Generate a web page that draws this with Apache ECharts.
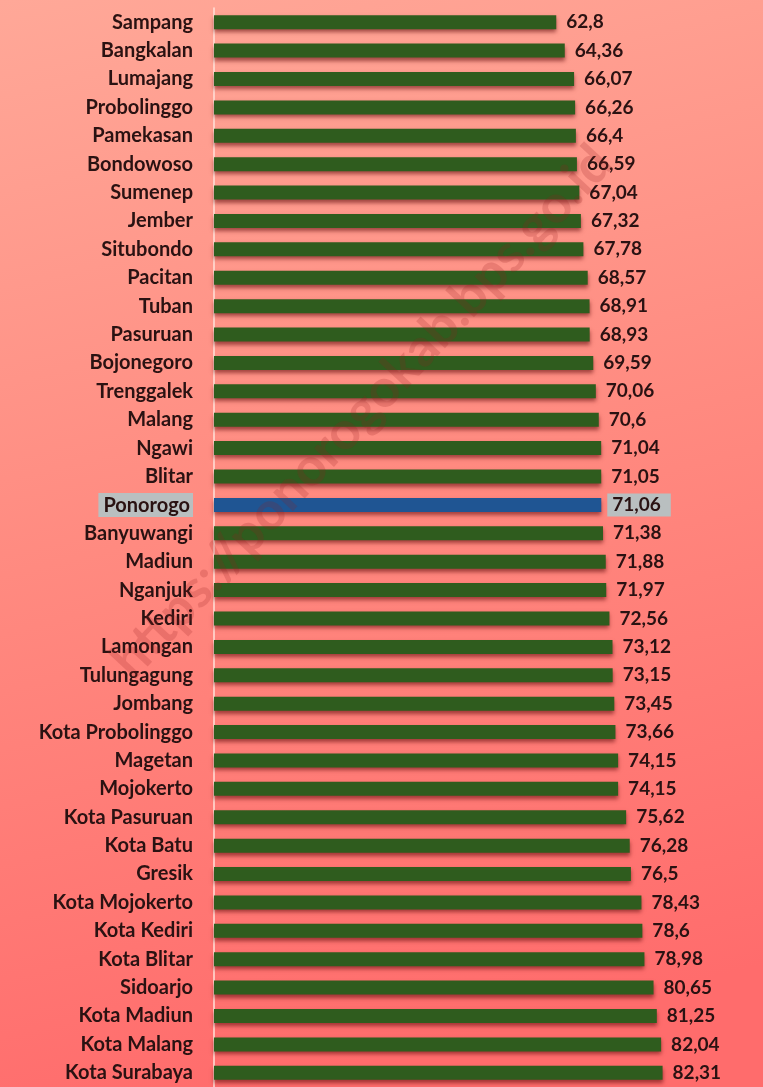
<!DOCTYPE html>
<html>
<head>
<meta charset="utf-8">
<script src="https://cdn.jsdelivr.net/npm/echarts@6/dist/echarts.min.js"></script>
<style>
  html, body { margin: 0; padding: 0; }
  #chart { width: 763px; height: 1087px; }
</style>
</head>
<body>
<div id="chart"></div>
<script>
// kabupaten / kota, diurutkan dari nilai terkecil
const regions = [
  'Sampang', 'Bangkalan', 'Lumajang', 'Probolinggo', 'Pamekasan', 'Bondowoso',
  'Sumenep', 'Jember', 'Situbondo', 'Pacitan', 'Tuban', 'Pasuruan',
  'Bojonegoro', 'Trenggalek', 'Malang', 'Ngawi', 'Blitar', 'Ponorogo',
  'Banyuwangi', 'Madiun', 'Nganjuk', 'Kediri', 'Lamongan', 'Tulungagung',
  'Jombang', 'Kota Probolinggo', 'Magetan', 'Mojokerto', 'Kota Pasuruan',
  'Kota Batu', 'Gresik', 'Kota Mojokerto', 'Kota Kediri', 'Kota Blitar',
  'Sidoarjo', 'Kota Madiun', 'Kota Malang', 'Kota Surabaya'
];
const values = [
  62.8, 64.36, 66.07, 66.26, 66.4, 66.59,
  67.04, 67.32, 67.78, 68.57, 68.91, 68.93,
  69.59, 70.06, 70.6, 71.04, 71.05, 71.06,
  71.38, 71.88, 71.97, 72.56, 73.12, 73.15,
  73.45, 73.66, 74.15, 74.15, 75.62,
  76.28, 76.5, 78.43, 78.6, 78.98,
  80.65, 81.25, 82.04, 82.31
];
const highlight = 'Ponorogo';

const txtColor = '#2a1212';
const fontFam = 'Lato, "Open Sans", sans-serif';

let myChart = echarts.init(document.getElementById('chart'));

let option = {
  backgroundColor: new echarts.graphic.LinearGradient(0, 0, 0.35, 1, [
    { offset: 0, color: '#ffa898' },
    { offset: 0.5, color: '#ff8a80' },
    { offset: 1, color: '#ff6c6c' }
  ]),
  animation: false,
  grid: {
    left: 214,
    right: 4,
    top: 8,
    bottom: 0
  },
  xAxis: {
    type: 'value',
    min: 0,
    max: 100,
    show: false
  },
  yAxis: {
    type: 'category',
    inverse: true,
    data: regions,
    axisTick: { show: false },
    axisLine: { show: true, lineStyle: { color: '#ffe2da', width: 1.5 } },
    axisLabel: {
      margin: 21,
      color: txtColor,
      fontFamily: fontFam,
      fontWeight: 'bold',
      fontSize: 20,
      formatter: function (v) {
        return v === highlight ? '{hl|' + v + '}' : v;
      },
      rich: {
        hl: {
          backgroundColor: '#b9bfc0',
          padding: [3, 3, 1, 5],
          color: txtColor,
          fontFamily: fontFam,
          fontWeight: 'bold',
          fontSize: 20
        }
      }
    }
  },
  series: [
    {
      type: 'bar',
      barWidth: 14,
      data: values.map(function (v, i) {
        let isHl = regions[i] === highlight;
        return {
          value: v,
          itemStyle: { color: isHl ? '#1f5593' : '#2f5c1e' },
          label: isHl ? {
            backgroundColor: '#b9bfc0',
            distance: 6,
            padding: [3, 10, 1, 5]
          } : {}
        };
      }),
      itemStyle: {
        shadowColor: 'rgba(100,15,15,0.6)',
        shadowBlur: 4,
        shadowOffsetY: 3
      },
      label: {
        show: true,
        position: 'right',
        distance: 10,
        color: txtColor,
        fontFamily: fontFam,
        fontWeight: 'bold',
        fontSize: 19,
        formatter: function (p) {
          return String(p.value).replace('.', ',');
        }
      }
    }
  ],
  graphic: [
    {
      type: 'text',
      x: 362,
      y: 412,
      rotation: 0.82,
      silent: true,
      z: 100,
      style: {
        text: 'https://ponorogokab.bps.go.id',
        fill: 'rgba(150,30,30,0.2)',
        fontSize: 53,
        fontWeight: 'bold',
        fontFamily: 'Lato, sans-serif',
        align: 'center',
        verticalAlign: 'middle'
      }
    }
  ]
};

myChart.setOption(option);
</script>
</body>
</html>
